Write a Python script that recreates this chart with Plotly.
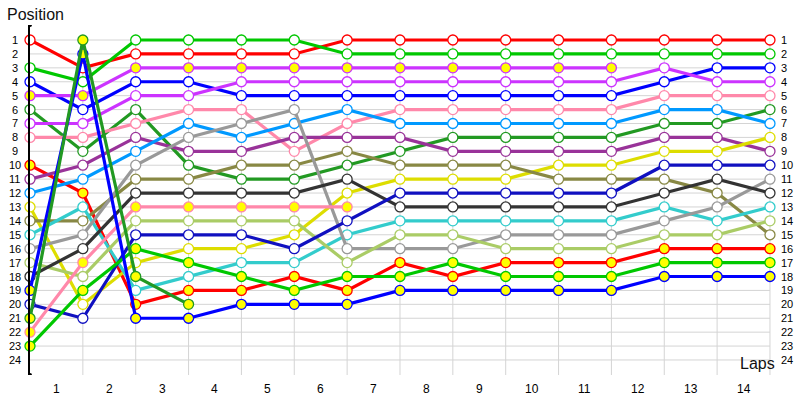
import plotly.graph_objects as go

# lap index of each sample (0 = start grid), lap labels sit between samples
points = list(range(15))
lap_labels = [str(i) for i in range(1, 15)]
positions = list(range(1, 25))

# positions per driver, None = retired
red = [1, 3, 2, 2, 2, 2, 1, 1, 1, 1, 1, 1, 1, 1, 1]
green = [3, 4, 1, 1, 1, 1, 2, 2, 2, 2, 2, 2, 2, 2, 2]
blue = [4, 6, 4, 4, 5, 5, 5, 5, 5, 5, 5, 5, 4, 3, 3]
violet_y = [5, 5, 3, 3, 3, 3, 3, 3, 3, 3, 3, 3, None, None, None]
dkgreen = [6, 9, 6, 10, 11, 11, 10, 9, 8, 8, 8, 8, 7, 7, 6]
violet = [7, 7, 5, 5, 4, 4, 4, 4, 4, 4, 4, 4, 3, 4, 4]
pink = [8, 8, 7, 6, 6, 9, 7, 6, 6, 6, 6, 6, 5, 5, 5]
red_y = [10, 12, 20, 19, 19, 18, 19, 17, 18, 17, 17, 17, 16, 16, 16]
dkpurple = [11, 10, 8, 9, 9, 8, 8, 8, 9, 9, 9, 9, 8, 8, 9]
ltblue = [12, 11, 9, 7, 8, 7, 6, 7, 7, 7, 7, 7, 6, 6, 7]
yellow = [13, 20, 17, 16, 16, 15, 12, 11, 11, 11, 10, 10, 9, 9, 8]
olive = [14, 14, 11, 11, 10, 10, 9, 10, 10, 10, 11, 11, 11, 12, 15]
cyan = [15, 13, 19, 18, 17, 17, 15, 14, 14, 14, 14, 14, 13, 14, 13]
gray = [16, 15, 10, 8, 7, 6, 16, 16, 16, 15, 15, 15, 14, 13, 11]
ltgreen = [17, 18, 14, 14, 14, 14, 17, 15, 15, 16, 16, 16, 15, 15, 14]
dkgray = [18, 16, 12, 12, 12, 12, 11, 13, 13, 13, 13, 13, 12, 11, 12]
dkblue = [20, 21, 15, 15, 15, 16, 14, 12, 12, 12, 12, 12, 10, 10, 10]
pink_y = [22, 17, 13, 13, 13, 13, 13, None, None, None, None, None, None, None, None]
green_y = [23, 19, 16, 17, 18, 19, 18, 18, 17, 18, 18, 18, 17, 17, 17]
blue_y = [19, 2, 21, 21, 20, 20, 20, 19, 19, 19, 19, 19, 18, 18, 18]
dkgreen_y = [21, 1, 18, 20, None, None, None, None, None, None, None, None, None, None, None]

series = [
    (red, "#ff0000", "white"),
    (green, "#00c800", "white"),
    (blue, "#0000ff", "white"),
    (violet_y, "#cc33ff", "#ffff00"),
    (dkgreen, "#229922", "white"),
    (violet, "#cc33ff", "white"),
    (pink, "#ff88aa", "white"),
    (red_y, "#ff0000", "#ffff00"),
    (dkpurple, "#993399", "white"),
    (ltblue, "#0099ff", "white"),
    (yellow, "#dddd00", "white"),
    (olive, "#888844", "white"),
    (cyan, "#33cccc", "white"),
    (gray, "#999999", "white"),
    (ltgreen, "#aacc66", "white"),
    (dkgray, "#333333", "white"),
    (dkblue, "#1010c0", "white"),
    (pink_y, "#ff88aa", "#ffff00"),
    (green_y, "#00c800", "#ffff00"),
    (blue_y, "#0000ff", "#ffff00"),
    (dkgreen_y, "#229922", "#ffff00"),
]

fig = go.Figure()
for vals, col, fill in series:
    fig.add_trace(go.Scatter(
        x=points, y=vals, mode="lines+markers", cliponaxis=False,
        line=dict(color=col, width=3.2),
        marker=dict(size=10, color=fill, line=dict(color=col, width=1.3)),
        showlegend=False, hoverinfo="skip"))

# grid
shapes = []
for p in positions:
    shapes.append(dict(type="line", xref="x", yref="y", x0=0, x1=points[-1], y0=p, y1=p,
                       line=dict(color="#d4d4d4", width=1), layer="below"))
for i in points[1:]:
    shapes.append(dict(type="line", xref="x", yref="y", x0=i, x1=i, y0=0.6, y1=25.08,
                       line=dict(color="#d4d4d4", width=1), layer="below"))
# axis end dots
for yy in (-0.08, 25.08):
    shapes.append(dict(type="circle", xref="x", yref="y", xsizemode="pixel", ysizemode="pixel",
                       xanchor=0, yanchor=yy, x0=-2, x1=2, y0=-2, y1=2,
                       fillcolor="black", line=dict(color="black", width=0)))

font = "Liberation Sans, Arial, sans-serif"
ann = []
for p in positions:
    ann.append(dict(x=-0.0208, xref="paper", y=p, yref="y", text=str(p), showarrow=False,
                    xanchor="center", yanchor="middle", font=dict(size=11, color="black")))
    ann.append(dict(x=1.0054, xref="paper", y=p, yref="y", text=str(p), showarrow=False,
                    xanchor="left", yanchor="middle", font=dict(size=11, color="black")))
for i, lab in enumerate(lap_labels):
    ann.append(dict(x=i + 0.5, xref="x", y=-0.04, yref="paper", text=lab, showarrow=False,
                    xanchor="center", yanchor="middle", font=dict(size=12, color="black")))
ann.append(dict(x=-0.0336, xref="paper", y=1.0286, yref="paper", text="Position", showarrow=False,
                xanchor="left", yanchor="middle", font=dict(size=16, color="#111")))
ann.append(dict(x=0.976, xref="paper", y=0.034, yref="paper", text="Laps", showarrow=False,
                xanchor="center", yanchor="middle", font=dict(size=16, color="#111")))
# x axis with arrow head
ann.append(dict(x=14.15, xref="x", y=25.08, yref="y", ax=-748, ay=0, text="", showarrow=True,
                arrowhead=2, arrowsize=1.2, arrowwidth=1.5, arrowcolor="black"))

fig.update_layout(
    width=800, height=400,
    margin=dict(l=30, r=25, t=25, b=25),
    paper_bgcolor="white", plot_bgcolor="white",
    font=dict(family=font, color="black"),
    shapes=shapes, annotations=ann,
    xaxis=dict(range=[0, 14.095], showgrid=False, zeroline=False, showticklabels=False,
               showline=False, fixedrange=True),
    yaxis=dict(range=[25.08, -0.08], showgrid=False, zeroline=False, showticklabels=False,
               showline=True, linecolor="black", linewidth=1.5, fixedrange=True),
)

fig.write_html("out.html", config={"displayModeBar": False},
               post_script="document.body.style.margin='0';document.body.style.overflow='hidden';")
